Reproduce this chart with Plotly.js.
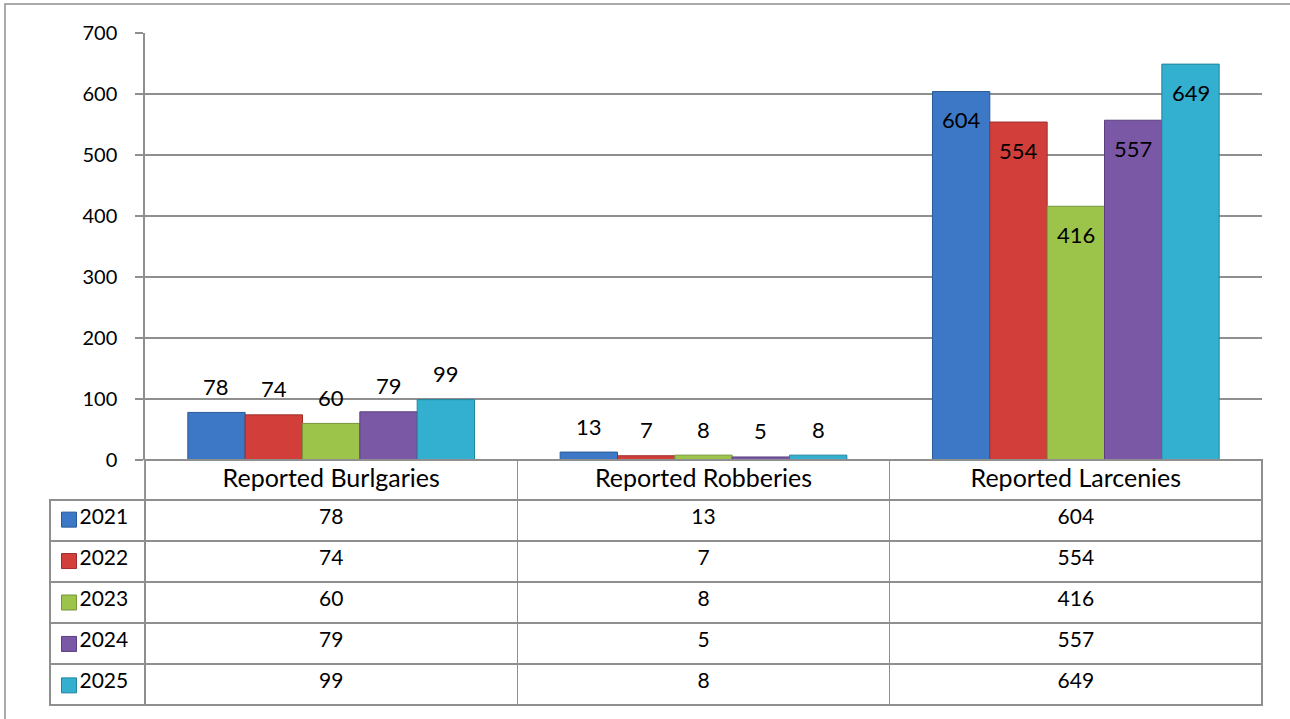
<!DOCTYPE html>
<html>
<head>
<meta charset="utf-8">
<script src="https://cdn.plot.ly/plotly-3.0.1.min.js"></script>
<style>html,body{margin:0;padding:0;background:#fff}</style>
</head>
<body>
<div id="myDiv" style="width:1290px;height:719px"></div>
<script>
// categories and yearly counts
var categories = ['Reported Burlgaries', 'Reported Robberies', 'Reported Larcenies'];
var years = ['2021', '2022', '2023', '2024', '2025'];
var v2021 = [78, 13, 604];
var v2022 = [74, 7, 554];
var v2023 = [60, 8, 416];
var v2024 = [79, 5, 557];
var v2025 = [99, 8, 649];
var yTicks = [0, 100, 200, 300, 400, 500, 600, 700];

var series = [v2021, v2022, v2023, v2024, v2025];
var colors = ['#3c78c6', '#d23f3b', '#9cc44a', '#7b58a6', '#33afcf'];
var edges = ['#2a5a9a', '#a02c2a', '#76953a', '#5b3f80', '#23849e'];
var inside = [false, false, true];   // larcenies labelled inside the bar top

var fontFam = 'Lato, Carlito, Calibri, sans-serif';
var grey = '#8f8f8f';
var bargap = 0.23;
var slot = (1 - bargap) / years.length;

var data = [];
var annotations = [];
for (var i = 0; i < years.length; i++) {
	data.push({
		type: 'bar',
		name: years[i],
		x: categories,
		y: series[i],
		marker: {color: colors[i], line: {color: edges[i], width: 1}},
		hoverinfo: 'x+y+name'
	});
	for (var j = 0; j < categories.length; j++) {
		annotations.push({
			xref: 'x', yref: 'y',
			x: j + (i - (years.length - 1) / 2) * slot,
			y: series[i][j],
			text: String(series[i][j]),
			showarrow: false,
			yanchor: 'middle',
			yshift: inside[j] ? -28 : 26,
			font: {family: fontFam, size: 22, color: '#000'}
		});
	}
}

// legend swatches in the first table column
data.push({
	type: 'scatter',
	mode: 'markers',
	xaxis: 'x2',
	yaxis: 'y2',
	x: years.map(function () { return 0.2; }),
	y: years,
	marker: {symbol: 'square', size: 15, color: colors, line: {color: edges, width: 1}},
	hoverinfo: 'skip'
});

// data table under the chart
var pad = '\u00a0\u00a0\u00a0\u00a0';
var cellCols = [years.map(function (y) { return pad + y; })];
for (var k = 0; k < categories.length; k++) {
	cellCols.push(series.map(function (s) { return String(s[k]); }));
}

data.push({
	type: 'table',
	domain: {x: [50 / 1290, 1262 / 1290], y: [0.012, 0.3602]},
	columnwidth: [95, 372, 372, 372],
	header: {
		values: [[''], [categories[0]], [categories[1]], [categories[2]]],
		height: 40,
		align: 'center',
		line: {color: ['rgba(0,0,0,0)', grey, grey, grey], width: 1.5},
		fill: {color: 'rgba(0,0,0,0)'},
		font: {family: fontFam, size: 25, color: '#000'}
	},
	cells: {
		values: cellCols,
		height: 41,
		align: ['left', 'center', 'center', 'center'],
		line: {color: grey, width: 1.5},
		fill: {color: 'rgba(0,0,0,0)'},
		font: {family: fontFam, size: 21, color: '#000'}
	}
});

var layout = {
	width: 1290,
	height: 719,
	margin: {l: 0, r: 0, t: 0, b: 0},
	showlegend: false,
	barmode: 'group',
	bargap: bargap,
	bargroupgap: 0,
	paper_bgcolor: '#fff',
	plot_bgcolor: 'rgba(0,0,0,0)',
	font: {family: fontFam, size: 20, color: '#000'},
	xaxis: {
		domain: [145 / 1290, 1262 / 1290],
		showticklabels: false,
		showgrid: false,
		ticks: '',
		showline: false,
		fixedrange: true
	},
	yaxis: {
		domain: [0.3602, 0.9541],
		range: [0, 700],
		tickvals: yTicks,
		ticks: 'outside',
		ticklen: 8,
		tickcolor: grey,
		tickwidth: 1.5,
		ticklabelstandoff: 14,
		showgrid: true,
		gridcolor: grey,
		gridwidth: 1.5,
		zeroline: true,
		zerolinecolor: grey,
		zerolinewidth: 1.5,
		showline: true,
		linecolor: grey,
		linewidth: 1.5,
		tickfont: {family: fontFam, size: 20, color: '#000'},
		fixedrange: true
	},
	xaxis2: {
		domain: [50 / 1290, 145 / 1290],
		range: [0, 1],
		visible: false,
		fixedrange: true
	},
	yaxis2: {
		domain: [(719 - 705) / 719, (719 - 500) / 719],
		type: 'category',
		categoryarray: years,
		autorange: 'reversed',
		visible: false,
		fixedrange: true
	},
	annotations: annotations,
	shapes: [{
		type: 'rect', xref: 'paper', yref: 'paper',
		x0: 5 / 1290, x1: 1.01, y0: -0.01, y1: 1 - 4 / 719,
		line: {color: grey, width: 1.5}
	}]
};

Plotly.newPlot('myDiv', data, layout, {displayModeBar: false});
</script>
</body>
</html>
